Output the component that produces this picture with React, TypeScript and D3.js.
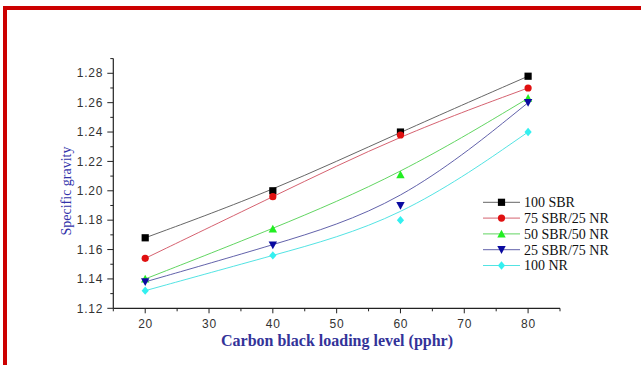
import React from "react";
import * as d3 from "d3";

const loadings = [20, 40, 60, 80];
const sbr100 = [1.168, 1.2, 1.24, 1.278];
const sbr75nr25 = [1.154, 1.196, 1.238, 1.27];
const sbr50nr50 = [1.14, 1.174, 1.211, 1.263];
const sbr25nr75 = [1.138, 1.163, 1.19, 1.26];
const nr100 = [1.132, 1.156, 1.18, 1.24];
const seriesNames = ["100 SBR", "75 SBR/25 NR", "50 SBR/50 NR", "25 SBR/75 NR", "100 NR"];
const xTicks = [20, 30, 40, 50, 60, 70, 80];
const yTicks = [1.12, 1.14, 1.16, 1.18, 1.2, 1.22, 1.24, 1.26, 1.28];

const seriesValues = [sbr100, sbr75nr25, sbr50nr50, sbr25nr75, nr100];
const markerColors = ["#000000", "#e01010", "#22ee22", "#0a0aa0", "#33f0f0"];
const lineColors = ["#555555", "#d05060", "#50d050", "#5050a0", "#40e0e0"];
const shapes = ["square", "circle", "triangle", "triangleDown", "diamond"];

function Marker({ shape, x, y, color }: { shape: string; x: number; y: number; color: string }) {
  const s = 3.6;
  if (shape === "square") return <rect x={x - s} y={y - s} width={2 * s} height={2 * s} fill={color} />;
  if (shape === "circle") return <circle cx={x} cy={y} r={s} fill={color} />;
  if (shape === "triangle")
    return <path d={`M${x},${y - s - 0.6}L${x + s + 0.6},${y + s}L${x - s - 0.6},${y + s}Z`} fill={color} />;
  if (shape === "triangleDown")
    return <path d={`M${x},${y + s + 0.6}L${x + s + 0.6},${y - s}L${x - s - 0.6},${y - s}Z`} fill={color} />;
  return <path d={`M${x},${y - s - 0.6}L${x + s},${y}L${x},${y + s + 0.6}L${x - s},${y}Z`} fill={color} />;
}

const tickFont = "Liberation Sans, Arial, sans-serif";
const serif = "Liberation Serif, Times New Roman, Times, serif";

export default function App() {
  const width = 641;
  const height = 365;
  const x = d3.scaleLinear().domain([15, 85]).range([113.3, 560]);
  const y = d3.scaleLinear().domain([1.12, 1.29]).range([308.3, 58.6]);
  const line = d3
    .line<number>()
    .x((_, i) => x(loadings[i]))
    .y((d) => y(d))
    .curve(d3.curveBasis);

  const xMinor = d3.range(15, 86, 10);
  const yMinor = d3.range(0, 9).map((i) => 1.13 + i * 0.02);

  return (
    <svg
      width={width}
      height={height}
      style={{ position: "absolute", left: 0, top: 0, background: "#fff" }}
    >
      <rect x={0} y={0} width={width} height={height} fill="#fff" />
      <path d={`M5,${height + 5}L5,8L${width + 5},8`} fill="none" stroke="#cc0000" strokeWidth={4} />

      <line x1={x(15)} x2={x(85)} y1={y(1.12)} y2={y(1.12)} stroke="#222" strokeWidth={1.2} />
      <line x1={x(15)} x2={x(15)} y1={y(1.12)} y2={y(1.29)} stroke="#222" strokeWidth={1.2} />

      {xTicks.map((t) => (
        <g key={"xt" + t}>
          <line x1={x(t)} x2={x(t)} y1={y(1.12)} y2={y(1.12) + 5} stroke="#222" strokeWidth={1} />
          <text
            x={x(t) + 0.4}
            y={y(1.12) + 19.5}
            textAnchor="middle"
            style={{ fontFamily: tickFont, fontSize: 12, letterSpacing: 0.8 }}
            fill="#333"
          >
            {t}
          </text>
        </g>
      ))}
      {xMinor.map((t) => (
        <line key={"xm" + t} x1={x(t)} x2={x(t)} y1={y(1.12)} y2={y(1.12) + 3} stroke="#222" strokeWidth={1} />
      ))}
      {yTicks.map((t) => (
        <g key={"yt" + t}>
          <line x1={x(15) - 6} x2={x(15)} y1={y(t)} y2={y(t)} stroke="#222" strokeWidth={1} />
          <text
            x={x(15) - 10}
            y={y(t) + 4.2}
            textAnchor="end"
            style={{ fontFamily: tickFont, fontSize: 12, letterSpacing: 0.8 }}
            fill="#333"
          >
            {t.toFixed(2)}
          </text>
        </g>
      ))}
      {yMinor.map((t) => (
        <line key={"ym" + t} x1={x(15) - 3} x2={x(15)} y1={y(t)} y2={y(t)} stroke="#222" strokeWidth={1} />
      ))}

      <text
        transform={`translate(71,191) rotate(-90)`}
        textAnchor="middle"
        style={{ fontFamily: serif, fontSize: 14 }}
        fill="#3333aa"
      >
        Specific gravity
      </text>
      <text
        x={337}
        y={346}
        textAnchor="middle"
        style={{ fontFamily: serif, fontSize: 16, fontWeight: "bold" }}
        fill="#333399"
      >
        Carbon black loading level (pphr)
      </text>

      {seriesValues.map((vals, si) => (
        <g key={"s" + si}>
          <path d={line(vals) || ""} fill="none" stroke={lineColors[si]} strokeWidth={0.9} />
          {vals.map((v, i) => (
            <Marker key={i} shape={shapes[si]} x={x(loadings[i])} y={y(v)} color={markerColors[si]} />
          ))}
        </g>
      ))}

      {seriesNames.map((name, i) => {
        const ly = 202.3 + i * 15.8;
        return (
          <g key={"l" + i}>
            <line x1={483} x2={520} y1={ly} y2={ly} stroke={lineColors[i]} strokeWidth={0.9} />
            <Marker shape={shapes[i]} x={501.5} y={ly} color={markerColors[i]} />
            <text x={524} y={ly + 4.8} style={{ fontFamily: serif, fontSize: 14 }} fill="#111">
              {name}
            </text>
          </g>
        );
      })}
    </svg>
  );
}
